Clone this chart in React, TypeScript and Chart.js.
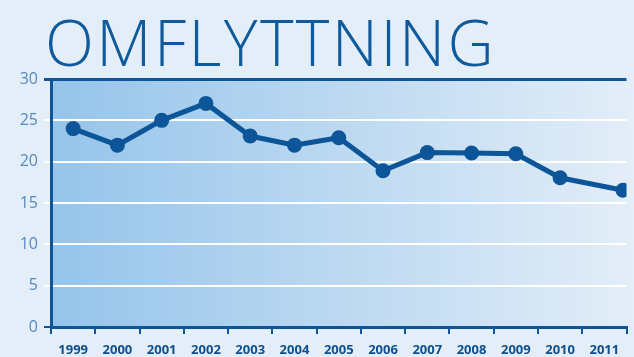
import React, { useEffect, useRef } from "react";
import { Chart, registerables } from "chart.js";

Chart.register(...registerables);

const years = ["1999", "2000", "2001", "2002", "2003", "2004", "2005", "2006", "2007", "2008", "2009", "2010", "2011"];
const pointYears = [1999, 2000, 2001, 2002, 2003, 2004, 2005, 2006, 2007, 2008, 2009, 2010, 2011.42];
const values = [24.0, 22.0, 25.0, 27.05, 23.1, 22.0, 22.9, 18.9, 21.1, 21.05, 20.95, 18.05, 16.55];
const yTicks = [0, 5, 10, 15, 20, 25, 30];

const DARK = "#0b5598";
const PAGE_BG = "#e4eef9";

const gradientBg = {
  id: "gradientBg",
  beforeDraw(chart: any) {
    const { ctx, chartArea } = chart;
    if (!chartArea) return;
    const g = ctx.createLinearGradient(chartArea.left, 0, chartArea.right, 0);
    g.addColorStop(0, "#95c4ea");
    g.addColorStop(1, "#e2edf8");
    ctx.save();
    ctx.fillStyle = g;
    ctx.fillRect(chartArea.left, chartArea.top, chartArea.right - chartArea.left, chartArea.bottom - chartArea.top);
    ctx.restore();
  },
};

export default function App() {
  const ref = useRef<HTMLCanvasElement>(null);
  useEffect(() => {
    if (!ref.current) return;
    const chart = new Chart(ref.current, {
      type: "line",
      data: {
        labels: years,
        datasets: [
          {
            data: pointYears.map((x, i) => ({ x, y: values[i] })),
            xAxisID: "x2",
            borderColor: DARK,
            backgroundColor: DARK,
            borderWidth: 5,
            pointRadius: 7.5,
            pointBackgroundColor: DARK,
            pointBorderWidth: 0,
            tension: 0,
          },
        ],
      },
      options: {
        animation: false,
        responsive: false,
        maintainAspectRatio: false,
        layout: { padding: { top: 79, right: 0, left: 0, bottom: 0 } },
        plugins: { legend: { display: false }, tooltip: { enabled: false } },
        scales: {
          x: {
            type: "category",
            offset: true,
            grid: {
              offset: true,
              drawOnChartArea: false,
              drawTicks: true,
              tickLength: 7,
              color: DARK,
              lineWidth: 2,
            },
            border: { display: true, color: DARK, width: 3 },
            ticks: {
              color: "#0e4f8d",
              font: { family: "'Open Sans', sans-serif", size: 13, weight: "bold" },
              padding: 8,
              maxRotation: 0,
              autoSkip: false,
            },
            afterFit(scale: any) {
              scale.height = 30;
            },
          },
          x2: {
            type: "linear",
            display: false,
            min: 1998.5,
            max: 2011.5,
          },
          y: {
            min: 0,
            max: 30,
            afterBuildTicks(scale: any) {
              scale.ticks = yTicks.map((v) => ({ value: v }));
            },
            grid: {
              color: (c: any) => (c.tick && (c.tick.value === 0 || c.tick.value === 30) ? DARK : "#ffffff"),
              lineWidth: (c: any) => (c.tick && c.tick.value === 30 ? 3 : 2),
              drawTicks: true,
              tickLength: 7,
            },
            border: { display: true, color: DARK, width: 3 },
            ticks: {
              color: "#5689c0",
              font: { family: "'Open Sans', sans-serif", size: 16, weight: "normal" },
              padding: 6,
            },
            afterFit(scale: any) {
              scale.width = 51;
            },
          },
        },
      },
      plugins: [gradientBg],
    });
    return () => chart.destroy();
  }, []);

  return (
    <div style={{ position: "fixed", left: 0, top: 0, width: 634, height: 357, background: PAGE_BG, overflow: "hidden" }}>
      <div
        style={{
          position: "absolute",
          left: 45,
          top: 4,
          fontFamily: "'Open Sans', sans-serif",
          fontWeight: 300,
          fontSize: 64,
          lineHeight: "76px",
          color: "#0e5a9c",
          letterSpacing: 2.4,
          whiteSpace: "nowrap",
        }}
      >
        OMFLYTTNING
      </div>
      <canvas ref={ref} width={634} height={357} style={{ position: "absolute", left: 0, top: 0 }} />
    </div>
  );
}
